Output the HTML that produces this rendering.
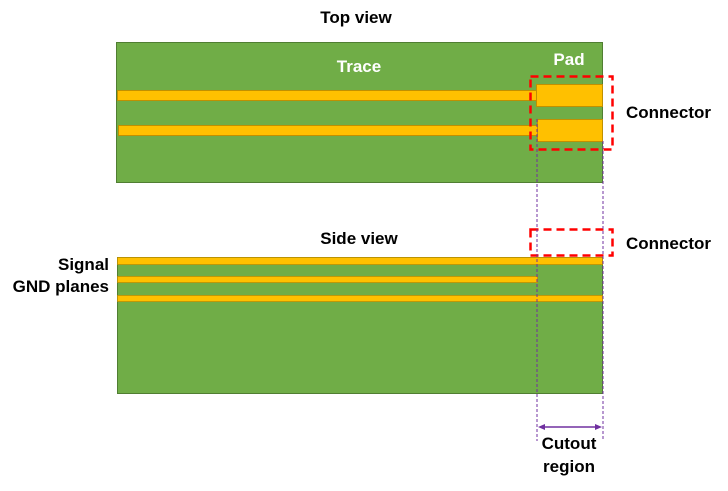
<!DOCTYPE html>
<html><head><style>
body{margin:0;background:#fff;}
svg text{font-family:"Liberation Sans",sans-serif;font-weight:bold;}
</style></head><body>
<svg width="728" height="486" viewBox="0 0 728 486" xmlns="http://www.w3.org/2000/svg">
<text x="356" y="23" font-size="17" text-anchor="middle" fill="#000">Top view</text>
<rect x="116.5" y="42.5" width="486" height="140" fill="#70ad47" stroke="#507e32" stroke-width="1"/>
<text x="359" y="72" font-size="17" text-anchor="middle" fill="#fff">Trace</text>
<text x="569" y="65" font-size="17" text-anchor="middle" fill="#fff">Pad</text>
<rect x="117.5" y="90.5" width="420" height="10" fill="#ffc000" stroke="#c09000" stroke-width="1"/>
<rect x="118.5" y="125.5" width="419" height="10" fill="#ffc000" stroke="#c09000" stroke-width="1"/>
<rect x="536.5" y="84.5" width="66" height="22" fill="#ffc000" stroke="#c09000" stroke-width="1"/>
<rect x="537.5" y="119.5" width="65" height="22" fill="#ffc000" stroke="#c09000" stroke-width="1"/>
<rect x="530.5" y="76.5" width="82" height="73" fill="none" stroke="#ff0000" stroke-width="2.5" stroke-dasharray="8,5"/>
<text x="626" y="118" font-size="17" fill="#000">Connector</text>

<text x="359" y="244" font-size="17" text-anchor="middle" fill="#000">Side view</text>
<rect x="117.5" y="257.5" width="485" height="136" fill="#70ad47" stroke="#507e32" stroke-width="1"/>
<rect x="117.5" y="257.5" width="485" height="7" fill="#ffc000" stroke="#c09000" stroke-width="0.8"/>
<rect x="117.5" y="276.5" width="420" height="6" fill="#ffc000" stroke="#c09000" stroke-width="0.8"/>
<rect x="117.5" y="295.5" width="485" height="6" fill="#ffc000" stroke="#c09000" stroke-width="0.8"/>
<rect x="530.5" y="229.5" width="82" height="26" fill="none" stroke="#ff0000" stroke-width="2.5" stroke-dasharray="8,5"/>
<text x="626" y="249" font-size="17" fill="#000">Connector</text>
<text x="109" y="270" font-size="17" text-anchor="end" fill="#000">Signal</text>
<text x="109" y="292" font-size="17" text-anchor="end" fill="#000">GND planes</text>

<line x1="537" y1="119" x2="537" y2="441" stroke="#7030a0" stroke-width="1" stroke-dasharray="3,2"/>
<line x1="603" y1="141" x2="603" y2="441" stroke="#7030a0" stroke-width="1" stroke-dasharray="3,2"/>
<line x1="541" y1="427" x2="599" y2="427" stroke="#7030a0" stroke-width="1.5"/>
<polygon points="538,427 545,424 545,430" fill="#7030a0"/>
<polygon points="602,427 595,424 595,430" fill="#7030a0"/>
<text x="569" y="449" font-size="17" text-anchor="middle" fill="#000">Cutout</text>
<text x="569" y="472" font-size="17" text-anchor="middle" fill="#000">region</text>
</svg>
</body></html>
